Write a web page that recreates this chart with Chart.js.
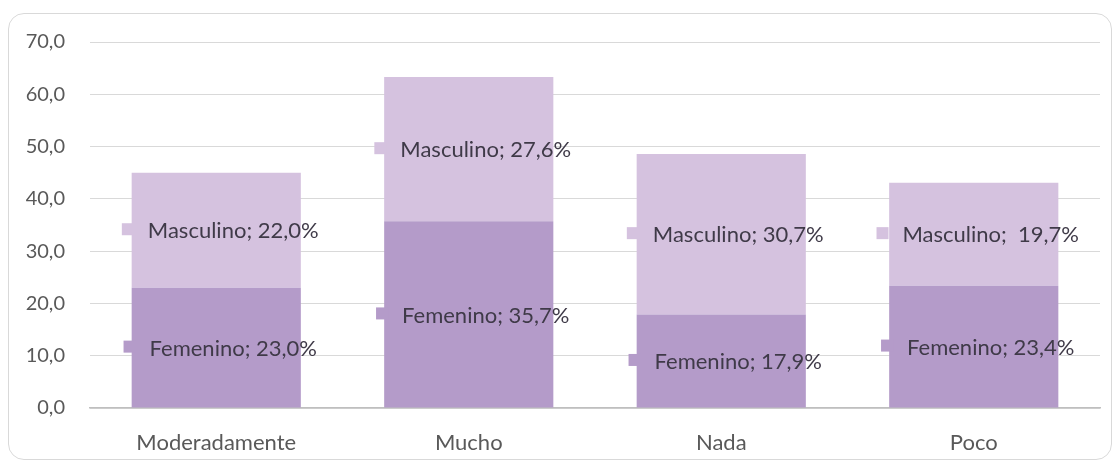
<!DOCTYPE html>
<html>
<head>
<meta charset="utf-8">
<script src="https://cdn.jsdelivr.net/npm/chart.js@4/dist/chart.umd.min.js"></script>
<style>
  html, body { margin:0; padding:0; background:#fff; }
  #wrap { position:relative; width:1118px; height:465px; }
  #frame { position:absolute; left:8px; top:13px; width:1102px; height:445px; border:1px solid #d9d9d9; border-radius:16px; pointer-events:none; }
  canvas { position:absolute; left:0; top:0; }
</style>
</head>
<body>
<div id="wrap">
  <canvas id="c" width="1118" height="465"></canvas>
  <div id="frame"></div>
</div>
<script>
const categories = ["Moderadamente", "Mucho", "Nada", "Poco"];
const femenino = [23.0, 35.7, 17.9, 23.4];
const masculino = [22.0, 27.6, 30.7, 19.7];
const femeninoLabels = ["Femenino; 23,0%", "Femenino; 35,7%", "Femenino; 17,9%", "Femenino; 23,4%"];
const masculinoLabels = ["Masculino; 22,0%", "Masculino; 27,6%", "Masculino; 30,7%", "Masculino;  19,7%"];
const yTicks = [0, 10, 20, 30, 40, 50, 60, 70];

const FONT = "Lato, 'Open Sans', sans-serif";
const femColor = "#b49bc9";
const mascColor = "#d5c2df";

const labelPlugin = {
  id: 'segLabels',
  afterDatasetsDraw(chart) {
    const ctx = chart.ctx;
    ctx.save();
    ctx.font = "22px " + FONT;
    ctx.textBaseline = "middle";
    ctx.textAlign = "left";
    chart.data.datasets.forEach((ds, di) => {
      const meta = chart.getDatasetMeta(di);
      meta.data.forEach((bar, i) => {
        const text = ds.segLabels[i];
        const yc = (bar.y + bar.base) / 2;
        const sq = 12, gap = 14;
        const tw = ctx.measureText(text).width;
        const total = sq + gap + tw;
        const x0 = bar.x - total / 2 + 4;
        ctx.fillStyle = ds.markerColor;
        ctx.fillRect(x0, yc - sq / 2 - 1, sq, sq);
        ctx.fillStyle = "#3f3a48";
        ctx.fillText(text, x0 + sq + gap, yc + 1);
      });
    });
    ctx.restore();
  }
};

new Chart(document.getElementById('c'), {
  type: 'bar',
  data: {
    labels: categories,
    datasets: [
      { label: 'Femenino', data: femenino, backgroundColor: femColor, markerColor: femColor, segLabels: femeninoLabels, barPercentage: 0.67, categoryPercentage: 1.0 },
      { label: 'Masculino', data: masculino, backgroundColor: mascColor, markerColor: mascColor, segLabels: masculinoLabels, barPercentage: 0.67, categoryPercentage: 1.0 }
    ]
  },
  options: {
    responsive: false,
    animation: false,
    layout: { padding: { top: 42, right: 18, left: 0, bottom: 0 } },
    plugins: { legend: { display: false }, tooltip: { enabled: false } },
    scales: {
      x: {
        stacked: true,
        grid: { display: false, drawTicks: false },
        border: { display: true, color: '#bfbfbf', width: 1.5 },
        ticks: { color: '#595959', font: { family: FONT, size: 22 }, padding: 22 },
        afterFit(s) { s.height = 57; }
      },
      y: {
        stacked: true,
        min: 0, max: 70,
        afterBuildTicks(s) { s.ticks = yTicks.map(v => ({ value: v })); },
        grid: { color: '#d9d9d9', lineWidth: 1, drawTicks: false },
        border: { display: false },
        ticks: {
          color: '#595959', font: { family: FONT, size: 20 }, padding: 25,
          callback: v => v.toFixed(1).replace('.', ',')
        },
        afterFit(s) { s.width = 90; }
      }
    }
  },
  plugins: [labelPlugin]
});
</script>
</body>
</html>
